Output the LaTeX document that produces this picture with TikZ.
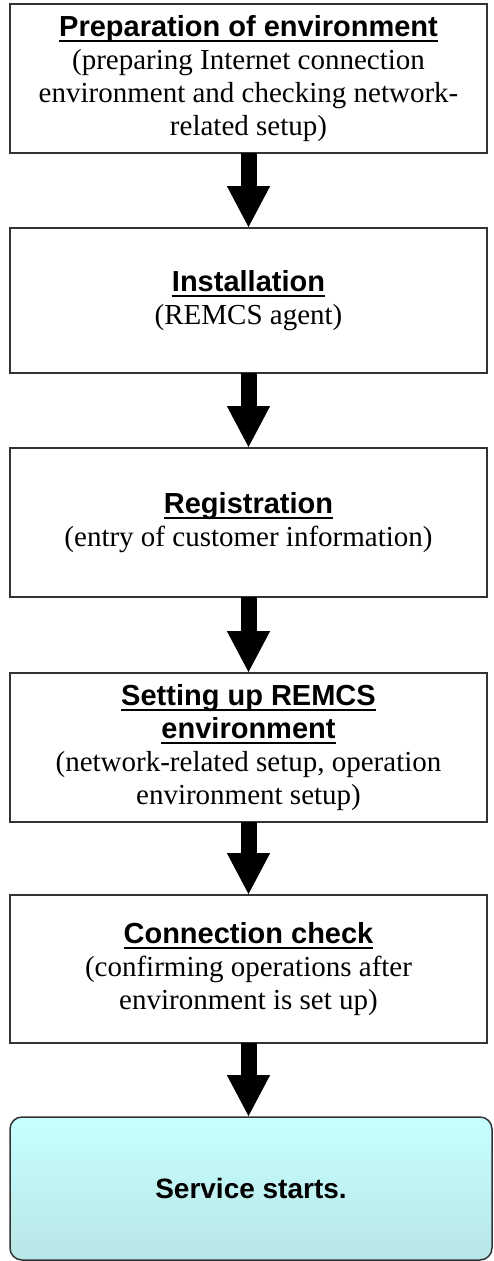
\documentclass[tikz,border=0pt]{standalone}
\usepackage{fontspec}
\setmainfont{Liberation Serif}
\setsansfont{Liberation Sans}
\usetikzlibrary{arrows.meta,positioning}
\definecolor{startTop}{RGB}{200,255,255}
\definecolor{startBottom}{RGB}{184,230,230}
\tikzset{
  stepbox/.style={draw=black!80,line width=1.5pt,fill=white,minimum width=477pt,
    inner sep=0pt,outer sep=0pt,align=center,font=\fontsize{29}{33}\selectfont},
  startbox/.style={stepbox,rounded corners=12pt,top color=startTop,bottom color=startBottom,
    minimum width=482pt},
  flow/.style={line width=16pt,-{Triangle[length=42pt,width=40pt]}}
}
% underlined sans title line
\newcommand{\steptitle}[1]{{\sffamily\bfseries\setbox0\hbox{#1}%
  \leavevmode\rlap{\rule[-6pt]{\wd0}{2pt}}\box0}}

\begin{document}
\begin{tikzpicture}[x=1pt,y=-1pt]
        \useasboundingbox (0,0) rectangle (493,1261);
        \node[stepbox,minimum height=149pt] (prep) at (248.5,78.5)
          {\steptitle{Preparation of environment}\\(preparing Internet connection\\
           environment and checking network-\\related setup)};
        \node[stepbox,minimum height=145pt] (inst) at (248.5,300.5)
          {\steptitle{Installation}\\(REMCS agent)};
        \node[stepbox,minimum height=149pt] (regi) at (248.5,522.5)
          {\steptitle{Registration}\\(entry of customer information)};
        \node[stepbox,minimum height=149pt] (envi) at (248.5,747.5)
          {\steptitle{Setting up REMCS}\\\steptitle{environment}\\
           (network-related setup, operation\\environment setup)};
        \node[stepbox,minimum height=148pt] (conn) at (248.5,969)
          {\steptitle{Connection check}\\(confirming operations after\\
           environment is set up)};
        \node[startbox,minimum height=143pt,font=\fontsize{28}{32}\selectfont\sffamily\bfseries]
          (serv) at (251,1188.5) {Service starts.};
        \draw[flow] (prep) -- (inst);
        \draw[flow] (inst) -- (regi);
        \draw[flow] (regi) -- (envi);
        \draw[flow] (envi) -- (conn);
        \draw[flow] (conn.south) -- (conn.south |- serv.north);
      \end{tikzpicture}
\end{document}
